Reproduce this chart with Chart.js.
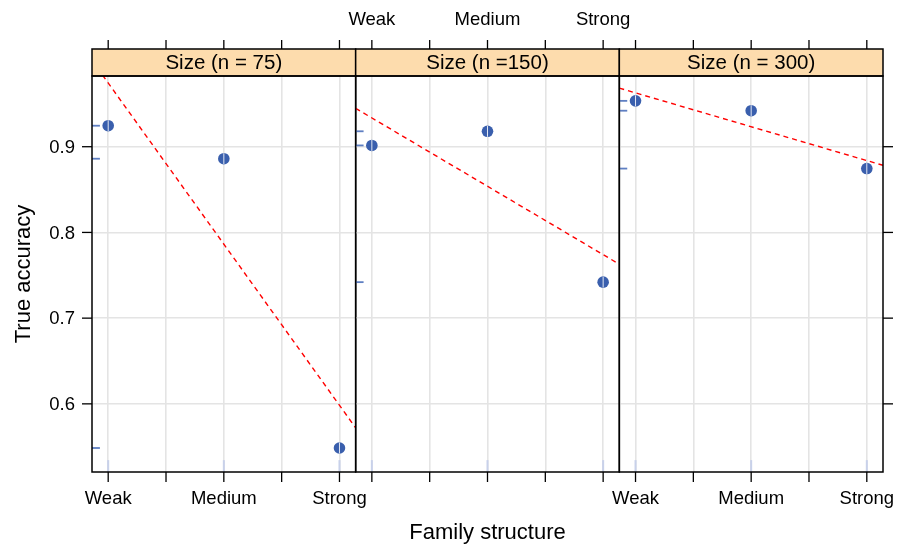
<!DOCTYPE html>
<html>
<head>
<meta charset="utf-8">
<script src="https://cdn.jsdelivr.net/npm/chart.js@4/dist/chart.umd.min.js"></script>
<style>
  html, body { margin: 0; padding: 0; background: #fff; }
  #wrap { position: relative; width: 897px; height: 545px; }
  #wrap canvas { position: absolute; left: 0; top: 0; }
</style>
</head>
<body>
<div id="wrap">
  <canvas id="p0" width="897" height="545"></canvas>
  <canvas id="p1" width="897" height="545"></canvas>
  <canvas id="p2" width="897" height="545"></canvas>
</div>
<script>
// data
const levels = ['Weak', 'Medium', 'Strong'];
const levelPos = [1, 2, 3];
const panelTitles = ['Size (n = 75)', 'Size (n =150)', 'Size (n = 300)'];
const acc75 = [0.9245, 0.886, 0.5485];
const acc150 = [0.9015, 0.918, 0.742];
const acc300 = [0.9535, 0.942, 0.8745];
const xTicks = [1, 1.5, 2, 2.5, 3];
const yTicks = [0.6, 0.7, 0.8, 0.9];
const yTickLabels = ['0.6', '0.7', '0.8', '0.9'];

const X_MIN = 0.86, X_MAX = 3.14;
const Y_MIN = 0.5205, Y_MAX = 0.9825;

const PANEL_L = 92, PANEL_R = 883, PANEL_T = 76, PANEL_B = 472, STRIP_T = 49;
const panelW = (PANEL_R - PANEL_L) / 3;

const FONT = '"Liberation Sans", Arial, Helvetica, sans-serif';
const POINT_COL = '#3a5fad';

// least squares fit, drawn across the whole panel like panel.lmline
function lmLine(xs, ys) {
  const n = xs.length;
  const mx = xs.reduce((a, b) => a + b, 0) / n;
  const my = ys.reduce((a, b) => a + b, 0) / n;
  let sxy = 0, sxx = 0;
  xs.forEach((x, i) => { sxy += (x - mx) * (ys[i] - my); sxx += (x - mx) * (x - mx); });
  const b = sxy / sxx, a = my - b * mx;
  return [X_MIN, X_MAX].map(x => ({ x: x, y: a + b * x }));
}

const latticePanel = {
  id: 'latticePanel',
  beforeDatasetsDraw(chart, args, o) {
    const ctx = chart.ctx, ca = chart.chartArea;
    const xs = chart.scales.x, ys = chart.scales.y;
    ctx.save();
    // rugs
    ctx.strokeStyle = '#5f7fc2';
    ctx.lineWidth = 1.8;
    o.values.forEach(v => {
      const py = ys.getPixelForValue(v);
      ctx.beginPath();
      ctx.moveTo(ca.left, py);
      ctx.lineTo(ca.left + 0.03 * (ca.right - ca.left), py);
      ctx.stroke();
    });
    ctx.strokeStyle = '#c8d1ea';
    ctx.lineWidth = 2;
    levelPos.forEach(v => {
      const px = xs.getPixelForValue(v);
      ctx.beginPath();
      ctx.moveTo(px, ca.bottom);
      ctx.lineTo(px, ca.bottom - 0.03 * (ca.bottom - ca.top));
      ctx.stroke();
    });
    ctx.restore();
  },
  afterDatasetsDraw(chart) {
    // thin white stripe through each symbol
    const ctx = chart.ctx;
    const meta = chart.getDatasetMeta(1);
    ctx.save();
    ctx.strokeStyle = 'rgba(255,255,255,0.85)';
    ctx.lineWidth = 1;
    meta.data.forEach(p => {
      ctx.beginPath();
      ctx.moveTo(p.x, p.y - 5.5);
      ctx.lineTo(p.x, p.y + 5.5);
      ctx.stroke();
    });
    ctx.restore();
  },
  afterDraw(chart, args, o) {
    const ctx = chart.ctx, ca = chart.chartArea;
    const xs = chart.scales.x, ys = chart.scales.y;
    ctx.save();
    ctx.strokeStyle = '#000';
    ctx.fillStyle = '#000';
    ctx.lineWidth = 1.5;

    // strip
    ctx.fillStyle = '#fddcad';
    ctx.fillRect(ca.left, STRIP_T, ca.right - ca.left, ca.top - STRIP_T);
    ctx.strokeRect(ca.left, STRIP_T, ca.right - ca.left, ca.top - STRIP_T);
    ctx.fillStyle = '#000';
    ctx.font = '20.5px ' + FONT;
    ctx.textAlign = 'center';
    ctx.textBaseline = 'middle';
    ctx.fillText(o.title, (ca.left + ca.right) / 2, (STRIP_T + ca.top) / 2 + 1);

    // panel border
    ctx.strokeRect(ca.left, ca.top, ca.right - ca.left, ca.bottom - ca.top);

    // outer tick marks
    ctx.lineWidth = 1.3;
    ctx.font = '18.5px ' + FONT;
    xTicks.forEach(v => {
      const px = xs.getPixelForValue(v);
      ctx.beginPath();
      ctx.moveTo(px, ca.bottom); ctx.lineTo(px, ca.bottom + 10);
      ctx.moveTo(px, STRIP_T); ctx.lineTo(px, STRIP_T - 9);
      ctx.stroke();
    });
    levelPos.forEach((v, i) => {
      const px = xs.getPixelForValue(v);
      if (o.bottomLabels) ctx.fillText(levels[i], px, 499);
      if (o.topLabels) ctx.fillText(levels[i], px, 20);
    });
    yTicks.forEach((v, i) => {
      const py = ys.getPixelForValue(v);
      if (o.left) {
        ctx.beginPath();
        ctx.moveTo(ca.left, py); ctx.lineTo(ca.left - 10, py);
        ctx.stroke();
        ctx.textAlign = 'right';
        ctx.fillText(yTickLabels[i], ca.left - 17, py + 1);
        ctx.textAlign = 'center';
      }
      if (o.right) {
        ctx.beginPath();
        ctx.moveTo(ca.right, py); ctx.lineTo(ca.right + 10, py);
        ctx.stroke();
      }
    });

    // axis titles
    ctx.font = '22px ' + FONT;
    if (o.left) {
      ctx.save();
      ctx.translate(24, (ca.top + ca.bottom) / 2);
      ctx.rotate(-Math.PI / 2);
      ctx.fillText('True accuracy', 0, 0);
      ctx.restore();
    }
    if (o.xTitle) {
      ctx.fillText('Family structure', (PANEL_L + PANEL_R) / 2, 533);
    }
    ctx.restore();
  }
};

function makePanel(id, k, values, extra) {
  const left = PANEL_L + k * panelW;
  const right = left + panelW;
  new Chart(document.getElementById(id), {
    type: 'scatter',
    data: {
      datasets: [
        {
          type: 'line',
          data: lmLine(levelPos, values),
          borderColor: '#ff0000',
          borderWidth: 1.4,
          borderDash: [5, 4],
          pointRadius: 0,
          fill: false
        },
        {
          data: levelPos.map((x, i) => ({ x: x, y: values[i] })),
          backgroundColor: POINT_COL,
          borderWidth: 0,
          pointRadius: 5.8,
          pointHoverRadius: 5.8
        }
      ]
    },
    options: {
      responsive: false,
      animation: false,
      events: [],
      layout: {
        padding: { left: left, right: 897 - right, top: PANEL_T, bottom: 545 - PANEL_B }
      },
      scales: {
        x: {
          type: 'linear', min: X_MIN, max: X_MAX,
          afterBuildTicks: s => { s.ticks = xTicks.map(v => ({ value: v })); },
          afterFit: s => { s.height = 0; },
          ticks: { display: false },
          grid: { color: '#e4e4e4', lineWidth: 1.6, drawTicks: false },
          border: { display: false }
        },
        y: {
          type: 'linear', min: Y_MIN, max: Y_MAX,
          afterBuildTicks: s => { s.ticks = yTicks.map(v => ({ value: v })); },
          afterFit: s => { s.width = 0; },
          ticks: { display: false },
          grid: { color: '#e4e4e4', lineWidth: 1.6, drawTicks: false },
          border: { display: false }
        }
      },
      plugins: {
        legend: { display: false },
        tooltip: { enabled: false },
        latticePanel: Object.assign({ title: panelTitles[k], values: values }, extra)
      }
    },
    plugins: [latticePanel]
  });
}

makePanel('p0', 0, acc75, { left: true, bottomLabels: true });
makePanel('p1', 1, acc150, { topLabels: true, xTitle: true });
makePanel('p2', 2, acc300, { right: true, bottomLabels: true });
</script>
</body>
</html>
